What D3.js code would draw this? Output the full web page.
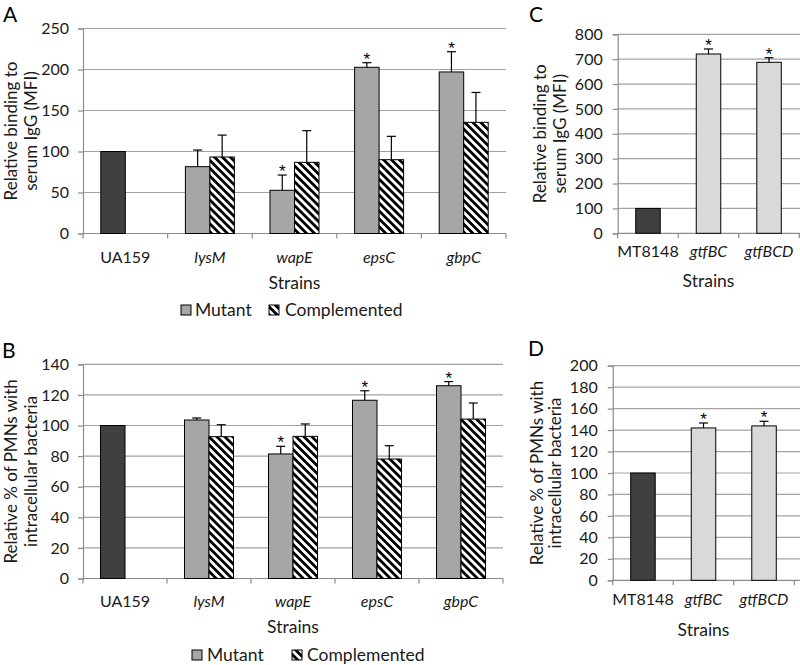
<!DOCTYPE html>
<html><head><meta charset="utf-8">
<script src="https://cdn.jsdelivr.net/npm/d3@7"></script>
<style>
body{margin:0;background:#fff;}
svg{display:block;font-family:Lato,"Open Sans",sans-serif;}
</style></head>
<body><svg id="c" width="800" height="665"></svg>
<script>
// ---------- DATA ----------
const strainsAB = ["UA159","lysM","wapE","epsC","gbpC"];
const italicAB = [false,true,true,true,true];
const controlA = 100;
const mutantA = [null,81.5,52.7,202.7,197];
const mutantErrA = [null,20.3,18.6,5.6,24.7];
const complA = [null,93.3,86.8,90,135.6];
const complErrA = [null,26.7,38.6,28.5,36.4];
const starA = [false,false,true,true,true];
const ticksA = [0,50,100,150,200,250];

const controlB = 100;
const mutantB = [null,103.6,81.4,116.5,126];
const mutantErrB = [null,1.3,5,6.2,2.7];
const complB = [null,92.7,92.9,78.1,104.2];
const complErrB = [null,7.8,8.1,8.7,10.5];
const starB = [false,false,true,true,true];
const ticksB = [0,20,40,60,80,100,120,140];

const strainsCD = ["MT8148","gtfBC","gtfBCD"];
const italicCD = [false,true,true];
const valuesC = [100,720.8,687.4];
const errC = [0,20.2,18.5];
const starC = [false,true,true];
const ticksC = [0,100,200,300,400,500,600,700,800];

const valuesD = [100,142,143.9];
const errD = [0,4.6,4.3];
const starD = [false,true,true];
const ticksD = [0,20,40,60,80,100,120,140,160,180,200];

const legendLabels = ["Mutant","Complemented"];

// ---------- STYLE ----------
const C_DARK="#404040", C_MUT="#a6a6a6", C_LIGHT="#d9d9d9", C_GRID="#a3a3a3", C_AXIS="#8c8c8c";
const svg = d3.select("#c");
const defs = svg.append("defs");
const pat = defs.append("pattern").attr("id","hatch").attr("patternUnits","userSpaceOnUse")
  .attr("width",5.6).attr("height",5.6).attr("patternTransform","rotate(-45)");
pat.append("rect").attr("width",5.6).attr("height",5.6).attr("fill","#fff");
pat.append("rect").attr("width",2.8).attr("height",5.6).attr("fill","#000");

function panel(o){
  const g = svg.append("g");
  const x = d3.scaleBand().domain(o.cats).range([o.left,o.right]).padding(0);
  const y = d3.scaleLinear().domain([0,o.ymax]).range([o.y0,o.ytop]);
  // gridlines
  g.append("g").selectAll("line").data(o.ticks.slice(1)).join("line")
    .attr("x1",o.left).attr("x2",o.gridRight||o.right)
    .attr("y1",d=>y(d)).attr("y2",d=>y(d))
    .attr("stroke",C_GRID).attr("stroke-width",1.2);
  // y axis
  const ya = g.append("g").attr("transform",`translate(${o.left},0)`)
    .call(d3.axisLeft(y).tickValues(o.ticks).tickSize(5).tickPadding(o.tickPad||9));
  ya.select(".domain").attr("stroke",C_AXIS).attr("stroke-width",1.2);
  ya.selectAll(".tick line").attr("stroke",C_AXIS).attr("stroke-width",1.2);
  ya.selectAll(".tick text").attr("font-family","Lato").attr("font-size",16).attr("fill","#1a1a1a");
  // x axis
  g.append("line").attr("x1",o.left).attr("x2",o.gridRight||o.right).attr("y1",o.y0).attr("y2",o.y0)
    .attr("stroke",C_AXIS).attr("stroke-width",1.2);
  const bounds = o.cats.map(c=>x(c)).concat([o.right]);
  g.append("g").selectAll("line").data(bounds).join("line")
    .attr("x1",d=>d).attr("x2",d=>d).attr("y1",o.y0).attr("y2",o.y0+5)
    .attr("stroke",C_AXIS).attr("stroke-width",1.2);
  g.append("g").selectAll("text").data(o.cats).join("text")
    .attr("x",d=>x(d)+x.bandwidth()/2).attr("y",o.catY)
    .attr("text-anchor","middle").attr("font-size",16).attr("fill","#1a1a1a")
    .attr("font-style",(d,i)=>o.italic[i]?"italic":"normal").text(d=>d);
  g.append("text").attr("x",(o.left+o.right)/2).attr("y",o.titleY)
    .attr("text-anchor","middle").attr("font-size",17.5).attr("fill","#1a1a1a").text("Strains");
  // y title
  const cy=(o.y0+o.ytop)/2;
  o.ylab.forEach((t,i)=>{
    g.append("text").attr("transform",`translate(${o.ylabX[i]},${cy}) rotate(-90)`)
      .attr("text-anchor","middle").attr("font-size",17).attr("fill","#1a1a1a").text(t);
  });
  // panel letter
  g.append("text").attr("x",o.letterX).attr("y",o.letterY).attr("font-size",21).attr("fill","#000").text(o.letter);
  // bars
  const bw = o.bw;
  o.series.forEach(s=>{
    s.values.forEach((v,i)=>{
      if(v==null) return;
      const cx = x(o.cats[i])+x.bandwidth()/2 + s.off*bw;
      const mx = cx+bw/2;
      g.append("rect").attr("x",cx).attr("y",y(v)).attr("width",bw).attr("height",y(0)-y(v))
        .attr("fill",s.fill).attr("stroke","#000").attr("stroke-width",1);
      const e = s.err ? s.err[i] : 0;
      if(e>0){
        g.append("line").attr("x1",mx).attr("x2",mx).attr("y1",y(v)).attr("y2",y(v+e)).attr("stroke","#000").attr("stroke-width",1.2);
        g.append("line").attr("x1",mx-4.5).attr("x2",mx+4.5).attr("y1",y(v+e)).attr("y2",y(v+e)).attr("stroke","#000").attr("stroke-width",1.2);
      }
      if(s.star && s.star[i]){
        g.append("text").attr("x",mx).attr("y",y(v+e)+2).attr("text-anchor","middle")
          .attr("font-family","Liberation Sans").attr("font-size",17).attr("fill","#000").text("*");
      }
    });
  });
  // legend
  if(o.legend){
    const L=o.legend;
    [[C_MUT,legendLabels[0],L.sq1,L.tx1],["url(#hatch)",legendLabels[1],L.sq2,L.tx2]].forEach(([f,t,sx,tx])=>{
      g.append("rect").attr("x",sx).attr("y",L.y-11).attr("width",10).attr("height",10)
        .attr("fill",f).attr("stroke","#000").attr("stroke-width",1);
      g.append("text").attr("x",tx).attr("y",L.y).attr("font-size",17.5).attr("fill","#1a1a1a").text(t);
    });
  }
}

panel({letter:"A",letterX:3,letterY:22,cats:strainsAB,italic:italicAB,left:83,right:506,y0:233.5,ytop:28.5,ymax:250,ticks:ticksA,
  bw:24.5,catY:263,titleY:289,ylab:["Relative binding to","serum IgG (MFI)"],ylabX:[17,37],
  series:[{values:[controlA,null,null,null,null],off:-1,fill:C_DARK},
          {values:mutantA,err:mutantErrA,star:starA,off:-1,fill:C_MUT},
          {values:complA,err:complErrA,off:0,fill:"url(#hatch)"}],
  legend:{y:316,sq1:181,tx1:195,sq2:269,tx2:285}});

panel({letter:"B",letterX:2,letterY:358,cats:strainsAB,italic:italicAB,left:83,right:503,y0:578.5,ytop:364.3,ymax:140,ticks:ticksB,
  bw:24.5,catY:607,titleY:633,ylab:["Relative % of PMNs with","intracellular  bacteria"],ylabX:[17,37],
  series:[{values:[controlB,null,null,null,null],off:-1,fill:C_DARK},
          {values:mutantB,err:mutantErrB,star:starB,off:-1,fill:C_MUT},
          {values:complB,err:complErrB,off:0,fill:"url(#hatch)"}],
  legend:{y:661,sq1:192,tx1:207,sq2:292,tx2:307}});

panel({letter:"C",letterX:529,letterY:22,cats:strainsCD,italic:italicCD,left:617.7,right:799.3,gridRight:800,y0:233.3,ytop:34.3,ymax:800,ticks:ticksC,
  bw:24.5,catY:257,titleY:287,ylab:["Relative binding to","serum IgG (MFI)"],ylabX:[546,566],tickPad:10,
  series:[{values:valuesC.map((v,i)=>i===0?v:null),off:-0.5,fill:C_DARK},
          {values:valuesC.map((v,i)=>i===0?null:v),err:errC,star:starC,off:-0.5,fill:C_LIGHT}]});

panel({letter:"D",letterX:528,letterY:356,cats:strainsCD,italic:italicCD,left:612.7,right:794.3,gridRight:800,y0:580.3,ytop:365.7,ymax:200,ticks:ticksD,
  bw:24.5,catY:605,titleY:636,ylab:["Relative % of PMNs with","intracellular  bacteria"],ylabX:[543,561],tickPad:10,
  series:[{values:valuesD.map((v,i)=>i===0?v:null),off:-0.5,fill:C_DARK},
          {values:valuesD.map((v,i)=>i===0?null:v),err:errD,star:starD,off:-0.5,fill:C_LIGHT}]});
</script>
</body></html>
